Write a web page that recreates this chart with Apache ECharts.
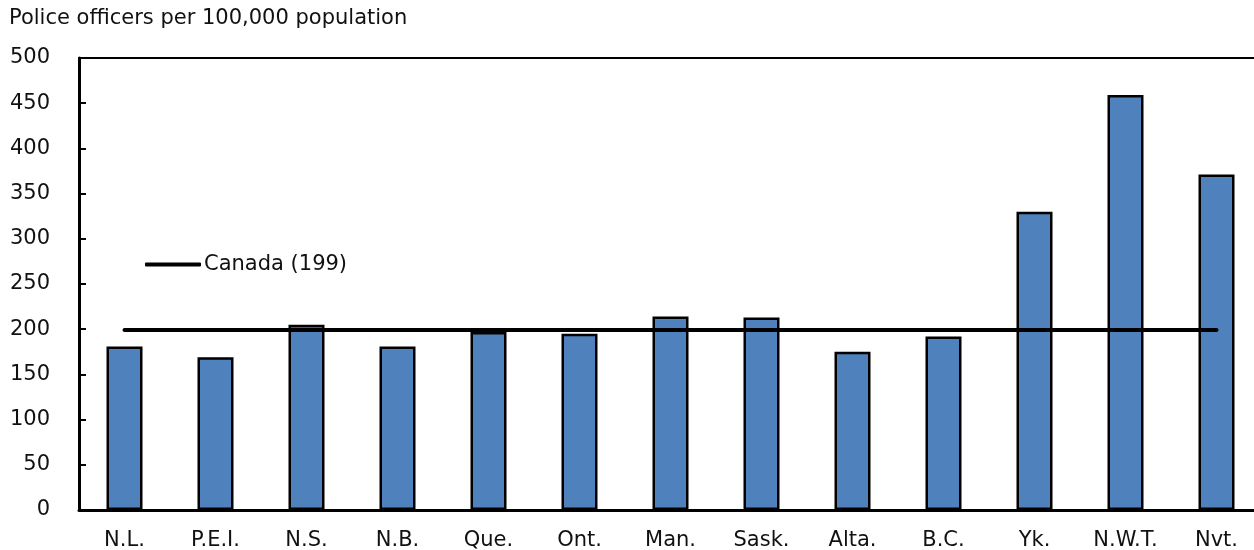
<!DOCTYPE html>
<html>
<head>
<meta charset="utf-8">
<script src="https://cdn.jsdelivr.net/npm/echarts@6/dist/echarts.min.js"></script>
<style>
  html, body { margin: 0; padding: 0; background: #fff; }
  #chart { width: 1254px; height: 550px; }
</style>
</head>
<body>
<div id="chart"></div>
<script>
// Police officers per 100,000 population, by province and territory
const provinces = ['N.L.', 'P.E.I.', 'N.S.', 'N.B.', 'Que.', 'Ont.', 'Man.', 'Sask.', 'Alta.', 'B.C.', 'Yk.', 'N.W.T.', 'Nvt.'];
const officersPer100k = [181, 169, 205, 181, 197, 195, 214, 213, 175, 192, 330, 459, 371];
const canadaRate = 199;
const canadaLabel = 'Canada (199)';
const yTicks = [0, 50, 100, 150, 200, 250, 300, 350, 400, 450, 500];
const yTitle = 'Police officers per 100,000 population';

const FONT = 'DejaVu Sans';
const FONT_SIZE = 21;
const chart = echarts.init(document.getElementById('chart'), null, { renderer: 'canvas' });

chart.setOption({
  animation: false,
  textStyle: { fontFamily: FONT, color: '#000' },
  title: {
    text: yTitle,
    left: 9,
    top: 8,
    padding: 0,
    textStyle: { fontFamily: FONT, fontSize: FONT_SIZE, fontWeight: 'normal', color: '#111' }
  },
  legend: {
    data: [{ name: canadaLabel, icon: 'roundRect' }],
    left: 145,
    top: 254,
    itemWidth: 56,
    itemHeight: 4,
    itemGap: 4,
    padding: 0,
    selectedMode: false,
    textStyle: { fontFamily: FONT, fontSize: FONT_SIZE, color: '#111', padding: [0, 0, 0, -2] }
  },
  // the plot runs a few pixels past the right edge of the canvas, so its right border stays hidden
  grid: {
    left: 79,
    top: 58,
    width: 1183,
    height: 452,
    outerBoundsMode: 'none',
    containLabel: false,
    show: true,
    borderColor: '#000',
    borderWidth: 2,
    backgroundColor: 'transparent'
  },
  xAxis: {
    type: 'category',
    data: provinces,
    axisLine: { lineStyle: { color: '#000', width: 3 } },
    axisTick: { show: false },
    axisLabel: { fontFamily: FONT, fontSize: FONT_SIZE, color: '#111', margin: 20, interval: 0 }
  },
  yAxis: {
    type: 'value',
    min: yTicks[0],
    max: yTicks[yTicks.length - 1],
    interval: yTicks[1] - yTicks[0],
    splitLine: { show: false },
    axisLine: { show: true, lineStyle: { color: '#000', width: 3 } },
    axisTick: { show: true, inside: true, length: 7, lineStyle: { color: '#000', width: 2 } },
    axisLabel: { fontFamily: FONT, fontSize: FONT_SIZE, color: '#111', margin: 29 }
  },
  series: [
    {
      name: 'Officers',
      type: 'bar',
      data: officersPer100k,
      barWidth: 36,
      itemStyle: { color: '#4F81BD', borderColor: '#000', borderWidth: 2.5 },
      z: 2
    },
    {
      name: canadaLabel,
      type: 'line',
      data: provinces.map(() => canadaRate),
      showSymbol: false,
      symbol: 'none',
      lineStyle: { color: '#000', width: 4, cap: 'round' },
      itemStyle: { color: '#000' },
      z: 3
    }
  ]
});
</script>
</body>
</html>
